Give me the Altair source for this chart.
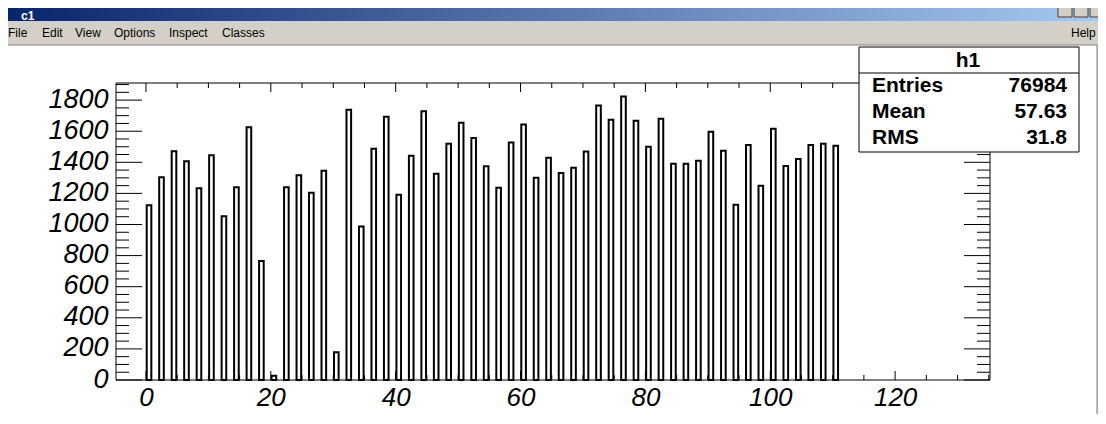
import altair as alt
import pandas as pd

# ---------------- data ----------------
bin_low = list(range(0, 112, 2))
counts = [1124, 1304, 1471, 1407, 1233, 1446, 1053, 1240, 1626, 766,
          27, 1240, 1317, 1204, 1345, 179, 1738, 987, 1487, 1693,
          1191, 1442, 1729, 1326, 1519, 1654, 1557, 1375, 1236, 1527,
          1643, 1300, 1429, 1332, 1365, 1469, 1765, 1673, 1823, 1667,
          1500, 1680, 1390, 1390, 1410, 1596, 1474, 1127, 1512, 1249,
          1615, 1377, 1422, 1512, 1519, 1506]
x_labels = [0, 20, 40, 60, 80, 100, 120]
y_labels = [0, 200, 400, 600, 800, 1000, 1200, 1400, 1600, 1800]
x_minor = [v for v in range(0, 136, 5) if v % 20]
y_minor = [v for v in range(0, 1901, 50) if v % 200]
window_title = "c1"
menu_items = ["File", "Edit", "View", "Options", "Inspect", "Classes"]
menu_help = "Help"
hist_name = "h1"
stat_names = ["Entries", "Mean", "RMS"]
stat_values = ["76984", "57.63", "31.8"]

# ---------------- layout ----------------
W, H = 874, 297
FONT = "Liberation Sans"
xs = alt.Scale(domain=[-4.8, 135.2], nice=False, zero=False)
ys = alt.Scale(domain=[0, 1910], nice=False, zero=False)

x_axis = alt.Axis(title=None, values=x_labels, format="d", domain=False, ticks=False,
                  tickSize=0, grid=False, labelPadding=4, labelFont=FONT,
                  labelFontSize=26, labelFontStyle="italic", labelColor="black",
                  labelFlush=False, labelOverlap=False, zindex=1)
y_axis = alt.Axis(title=None, values=y_labels, format="d", domain=False, ticks=False,
                  tickSize=0, grid=False, labelPadding=8, labelFont=FONT,
                  labelFontSize=27, labelFontStyle="italic", labelColor="black",
                  labelFlush=False, labelOverlap=False, labelOffset=-1, zindex=1)

one = pd.DataFrame({"k": [0]})
layers = []

# window chrome
layers.append(alt.Chart(one).mark_rect(fill="white", stroke="#808080", strokeWidth=1).encode(
    x=alt.value(-110), x2=alt.value(981), y=alt.value(-38), y2=alt.value(340)))
layers.append(alt.Chart(one).mark_rect(
    fill=alt.Gradient(gradient="linear",
                      stops=[alt.GradientStop(color="#0a246a", offset=0),
                             alt.GradientStop(color="#a6caf0", offset=1)],
                      x1=0, x2=1, y1=0, y2=0)).encode(
    x=alt.value(-110), x2=alt.value(990), y=alt.value(-80), y2=alt.value(-62)))
layers.append(alt.Chart(one).mark_text(color="white", font=FONT, fontWeight="bold", fontSize=12,
                                       align="left", baseline="middle").encode(
    x=alt.value(-95), y=alt.value(-67), text=alt.value(window_title)))
for bx in [942, 958, 974]:
    layers.append(alt.Chart(one).mark_rect(fill="#d4d0c8", stroke="#404040", strokeWidth=1).encode(
        x=alt.value(bx), x2=alt.value(bx + 14), y=alt.value(-79), y2=alt.value(-66)))
menu_x = [-108, -74, -41, -2, 53, 106]
for lbl, mx in zip(menu_items, menu_x):
    layers.append(alt.Chart(one).mark_text(color="black", font=FONT, fontSize=12,
                                           align="left", baseline="alphabetic").encode(
        x=alt.value(mx), y=alt.value(-46), text=alt.value(lbl)))
layers.append(alt.Chart(one).mark_text(color="black", font=FONT, fontSize=12,
                                       align="left", baseline="alphabetic").encode(
    x=alt.value(955), y=alt.value(-46), text=alt.value(menu_help)))

# histogram bars (bar outline inset to mimic ROOT drawing)
bars = pd.DataFrame({"lo": bin_low, "count": counts})
bars["l"] = bars["lo"] + 0.12
bars["r"] = bars["lo"] + 0.86
layers.append(alt.Chart(bars).mark_rect(fill="white", stroke="black", strokeWidth=2).encode(
    x=alt.X("l:Q", scale=xs, axis=x_axis), x2="r:Q",
    y=alt.Y("count:Q", scale=ys, axis=y_axis), y2=alt.datum(0)))

# inside ticks on all four sides
ymaj = pd.DataFrame({"v": y_labels})
ymin = pd.DataFrame({"v": y_minor})
xmaj = pd.DataFrame({"v": x_labels})
xmin = pd.DataFrame({"v": x_minor})
for df, ln in [(ymaj, 26), (ymin, 13)]:
    layers.append(alt.Chart(df).mark_rule(color="black", strokeWidth=1).encode(
        y=alt.Y("v:Q", scale=ys, axis=y_axis), x=alt.value(0), x2=alt.value(ln)))
    layers.append(alt.Chart(df).mark_rule(color="black", strokeWidth=1).encode(
        y=alt.Y("v:Q", scale=ys, axis=y_axis), x=alt.value(W - ln), x2=alt.value(W)))
for df, ln in [(xmaj, 9), (xmin, 5)]:
    layers.append(alt.Chart(df).mark_rule(color="black", strokeWidth=1).encode(
        x=alt.X("v:Q", scale=xs, axis=x_axis), y=alt.value(0), y2=alt.value(ln)))
    layers.append(alt.Chart(df).mark_rule(color="black", strokeWidth=1).encode(
        x=alt.X("v:Q", scale=xs, axis=x_axis), y=alt.value(H - ln), y2=alt.value(H)))

# frame
layers.append(alt.Chart(one).mark_rule(color="black", strokeWidth=1).encode(
    x=alt.value(0), x2=alt.value(W), y=alt.value(0)))
layers.append(alt.Chart(one).mark_rule(color="black", strokeWidth=1).encode(
    x=alt.value(0), x2=alt.value(W), y=alt.value(H)))
layers.append(alt.Chart(one).mark_rule(color="black", strokeWidth=1).encode(
    x=alt.value(0), y=alt.value(0), y2=alt.value(H)))
layers.append(alt.Chart(one).mark_rule(color="black", strokeWidth=1).encode(
    x=alt.value(W), y=alt.value(0), y2=alt.value(H)))

# statistics box
BX0, BX1, BY0, BY1 = 743, 963, -36, 69
layers.append(alt.Chart(one).mark_rect(fill="white", stroke="black", strokeWidth=1).encode(
    x=alt.value(BX0), x2=alt.value(BX1), y=alt.value(BY0), y2=alt.value(BY1)))
layers.append(alt.Chart(one).mark_rule(color="black", strokeWidth=1).encode(
    x=alt.value(BX0), x2=alt.value(BX1), y=alt.value(-10)))
layers.append(alt.Chart(one).mark_text(color="black", font=FONT, fontWeight="bold", fontSize=21,
                                       align="center", baseline="alphabetic").encode(
    x=alt.value(852), y=alt.value(-16), text=alt.value(hist_name)))
for i, (nm, val) in enumerate(zip(stat_names, stat_values)):
    yb = 9 + 26 * i
    layers.append(alt.Chart(one).mark_text(color="black", font=FONT, fontWeight="bold", fontSize=21,
                                           align="left", baseline="alphabetic").encode(
        x=alt.value(756), y=alt.value(yb), text=alt.value(nm)))
    layers.append(alt.Chart(one).mark_text(color="black", font=FONT, fontWeight="bold", fontSize=21,
                                           align="right", baseline="alphabetic").encode(
        x=alt.value(951), y=alt.value(yb), text=alt.value(val)))

chart = alt.layer(*layers).properties(
    width=W, height=H,
    padding={"left": 108, "top": 75, "right": 108, "bottom": 34},
    autosize=alt.AutoSizeParams(type="none"),
    background="#d4d0c8",
).configure_view(stroke=None)

chart.save("out.html", embed_options={"renderer": "svg", "actions": False})
